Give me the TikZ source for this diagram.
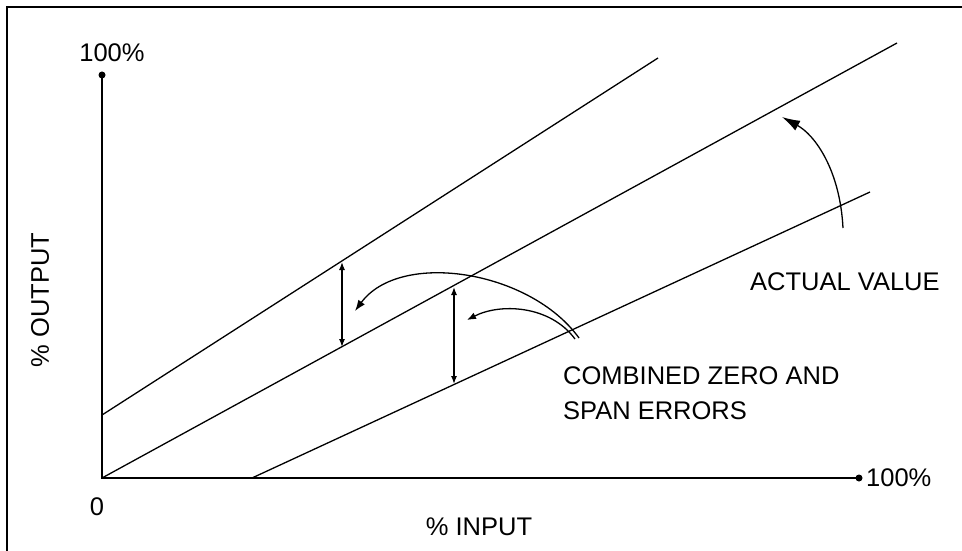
\documentclass[tikz,border=0pt]{standalone}
\usepackage{fontspec}
\setmainfont{Liberation Sans}
\usetikzlibrary{arrows.meta}
\begin{document}
\begin{tikzpicture}[x=1pt,y=-1pt,
  ln/.style={line width=1.3pt},
  lbl/.style={inner sep=0pt,font=\fontsize{25.5}{35}\selectfont},
  dbl/.style={ln,{Latex[length=8pt,width=6pt]}-{Latex[length=8pt,width=6pt]}},
  crv/.style={ln,-{Latex[length=11pt,width=8pt]}},
  dotmark/.style={circle,fill=black,inner sep=0pt,minimum size=7pt}]
\useasboundingbox (0,0) rectangle (962,551);
% frame
\draw[line width=2.6pt] (7,551) -- (7,7) -- (962,7);
% axes
\coordinate (O) at (102,478);
\node[dotmark] (ytop) at (102,75) {};
\node[dotmark] (xend) at (859,478) {};
\draw[ln] (ytop.center) -- (O) -- (xend.center);
\node[lbl] (ylab) at (112,53) {100\%};
\node[lbl,anchor=west] (xlab) at (866,478) {100\%};
\node[lbl] (zero) at (97,507) {0};
\node[lbl] (inp) at (479,527) {\% INPUT};
\node[lbl,rotate=90] (outp) at (40,300) {\% OUTPUT};
% characteristic lines
\coordinate (u0) at (102,415);
\coordinate (u1) at (658,58);
\coordinate (m1) at (897,43);
\coordinate (l0) at (252,478);
\coordinate (l1) at (870,192);
\draw[ln] (u0) -- (u1);
\draw[ln] (O) -- (m1);
\draw[ln] (l0) -- (l1);
% error arrows
\coordinate (a1t) at (342,262);
\coordinate (a1b) at (342,347);
\coordinate (a2t) at (454,287);
\coordinate (a2b) at (454,384);
\draw[dbl] (a1t) -- (a1b);
\draw[dbl] (a2t) -- (a2b);
% curved arrows
\coordinate (c1s) at (579,338);
\coordinate (c1e) at (355,311);
\coordinate (c2s) at (575,339);
\coordinate (c2e) at (467,320);
\draw[crv] (c1s) .. controls (530,270) and (400,250) .. (c1e);
\draw[ln,-{Latex[length=9pt,width=7pt]}] (c2s) .. controls (550,305) and (500,303) .. (c2e);
\coordinate (avs) at (843,228);
\coordinate (ave) at (782,117);
\draw[ln,-{Latex[length=18pt,width=11pt]}] (avs) .. controls (840,170) and (815,135) .. (ave);
% labels
\node[lbl,anchor=west] (actual) at (750,282) {ACTUAL VALUE};
\node[lbl,anchor=north west,align=left] (comb) at (563,366) {COMBINED ZERO AND\\SPAN ERRORS};
\end{tikzpicture}
\end{document}
